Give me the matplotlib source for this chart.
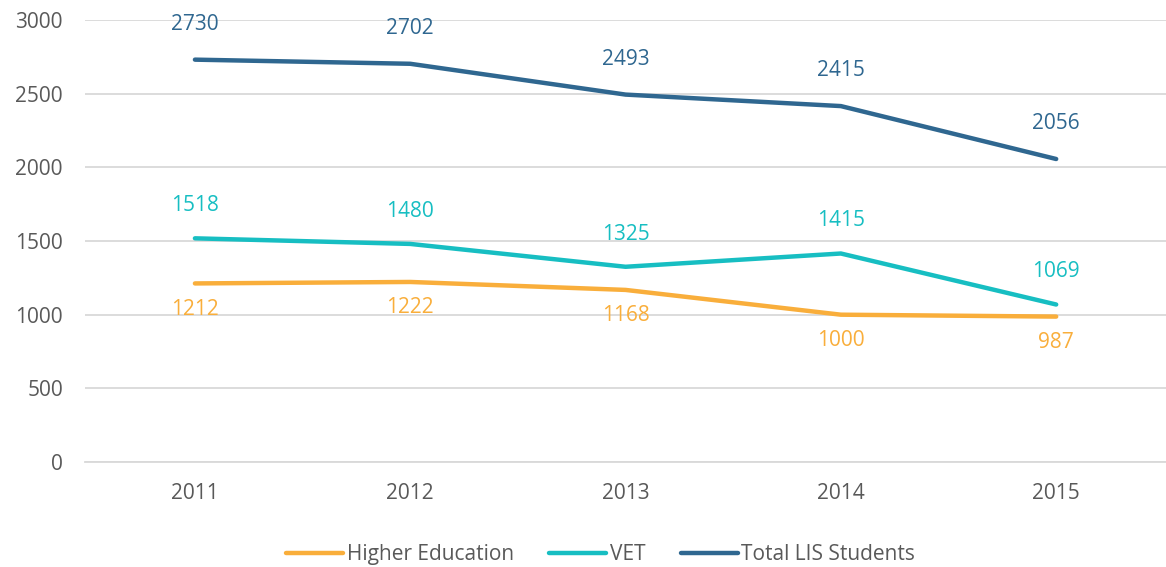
import matplotlib
matplotlib.use("Agg")
import matplotlib.pyplot as plt

years = ["2011", "2012", "2013", "2014", "2015"]
higher_ed = [1212, 1222, 1168, 1000, 987]
vet = [1518, 1480, 1325, 1415, 1069]
total = [2730, 2702, 2493, 2415, 2056]
yticks = [0, 500, 1000, 1500, 2000, 2500, 3000]

c_he = "#F9AE3B"
c_vet = "#17BEC2"
c_tot = "#2F6790"
txt = "#595959"

plt.rcParams['font.family'] = ['Open Sans', 'DejaVu Sans']
fs = 15

fig = plt.figure(figsize=(11.66, 5.67), dpi=100)
ax = fig.add_axes([0.073, 0.185, 0.927, 0.78])
x = list(range(len(years)))

ax.plot(x, higher_ed, color=c_he, lw=3.2, solid_capstyle='round', label="Higher Education", zorder=3)
ax.plot(x, vet, color=c_vet, lw=3.2, solid_capstyle='round', label="VET", zorder=3)
ax.plot(x, total, color=c_tot, lw=3.2, solid_capstyle='round', label="Total LIS Students", zorder=3)

for xi, v in zip(x, total):
    ax.annotate(str(v), (xi, v), xytext=(0, 18), textcoords='offset points',
                ha='center', va='bottom', color=c_tot, fontsize=fs)
for xi, v in zip(x, vet):
    ax.annotate(str(v), (xi, v), xytext=(0, 16), textcoords='offset points',
                ha='center', va='bottom', color=c_vet, fontsize=fs)
for xi, v in zip(x, higher_ed):
    ax.annotate(str(v), (xi, v), xytext=(0, -11), textcoords='offset points',
                ha='center', va='top', color=c_he, fontsize=fs)

ax.set_xlim(-0.51, 4.51)
ax.set_ylim(0, 3000)
ax.set_yticks(yticks)
ax.set_xticks(x)
ax.set_xticklabels(years)
ax.yaxis.grid(True, color="#D9D9D9", lw=1.3)
ax.set_axisbelow(True)
for s in ax.spines.values():
    s.set_visible(False)
ax.spines['bottom'].set_visible(True)
ax.spines['bottom'].set_color("#D9D9D9")
ax.spines['bottom'].set_linewidth(1.3)
ax.tick_params(axis='both', length=0, labelsize=fs, colors=txt)
ax.tick_params(axis='x', pad=15)
ax.tick_params(axis='y', pad=16)

leg = fig.legend(loc='center', bbox_to_anchor=(0.515, 0.022), ncol=3, frameon=False,
                 fontsize=fs, handlelength=2.75, handletextpad=0.15, columnspacing=1.7)
for t in leg.get_texts():
    t.set_color(txt)

fig.savefig("out.png", dpi=100)
